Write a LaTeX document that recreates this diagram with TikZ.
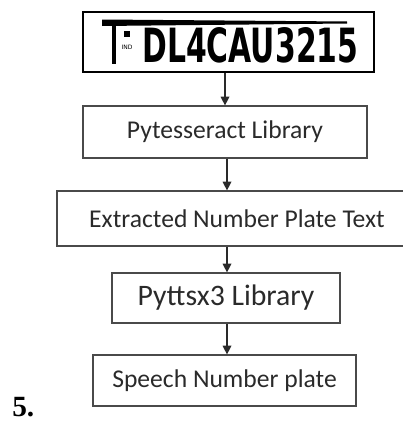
\documentclass[tikz,border=0pt]{standalone}
\usepackage{fontspec}
\setmainfont{Carlito}
\newfontfamily\platefont{DejaVu Sans}
\newfontfamily\numfont{Liberation Serif}
\usetikzlibrary{arrows.meta}
\definecolor{boxline}{HTML}{4A4A4A}
\definecolor{ink}{HTML}{2A2A2A}
\begin{document}
\begin{tikzpicture}[x=0.75pt,y=-0.75pt,
  box/.style={draw=boxline, line width=0.9pt, inner sep=0pt, anchor=center, text=ink},
  lbl/.style={font=\fontsize{19.2pt}{22pt}\selectfont},
  biglbl/.style={font=\fontsize{22.3pt}{25pt}\selectfont},
  arr/.style={draw=ink, line width=0.9pt, -{Triangle[length=6.5pt,width=6.5pt]}}]
\useasboundingbox (0,0) rectangle (403,421);
\begin{scope}
\clip (0,0) rectangle (403,421);
% number plate
\node[box, draw=black, line width=1.1pt, minimum width=218.25pt, minimum height=45pt] (plate) at (228.5,42) {};
\fill[black] (102,19.5) -- (347,21.5) -- (347,23.5) -- (102,26) -- cycle;
\fill[black] (111.5,20) rectangle (115.5,64);
\fill[black] (124,31) rectangle (130,37);
\node[inner sep=0pt, font=\platefont\fontsize{4.5pt}{5pt}\selectfont] (ind) at (127,47) {IND};
\node[anchor=south west, inner sep=0pt] (plno) at (142,63) {\resizebox{162pt}{26.25pt}{\platefont\bfseries DL4CAU3215}};
% boxes
\node[box, lbl, minimum width=213pt, minimum height=39pt] (pyt) at (225,132) {Pytesseract Library};
\node[box, lbl, minimum width=270pt, minimum height=41.25pt] (ext) at (237,218.5) {Extracted Number Plate Text};
\node[box, biglbl, minimum width=171pt, minimum height=37.5pt] (pyx) at (226,298) {Pyttsx3 Library};
\node[box, lbl, minimum width=197.25pt, minimum height=38.25pt] (sp) at (224.5,380.5) {Speech Number plate};
% connectors
\coordinate (ax1) at (225,0);
\coordinate (ax2) at (227,0);
\draw[arr] (plate.south -| ax1) -- (pyt.north -| ax1);
\draw[arr] (pyt.south -| ax2) -- (ext.north -| ax2);
\draw[arr] (ext.south -| ax2) -- (pyx.north -| ax2);
\draw[arr] (pyx.south -| ax2) -- (sp.north -| ax2);
% label
\node[anchor=base west, inner sep=0pt, font=\numfont\bfseries\fontsize{22pt}{24pt}\selectfont] (num) at (12,416.5) {5.};
\end{scope}
\end{tikzpicture}
\end{document}
